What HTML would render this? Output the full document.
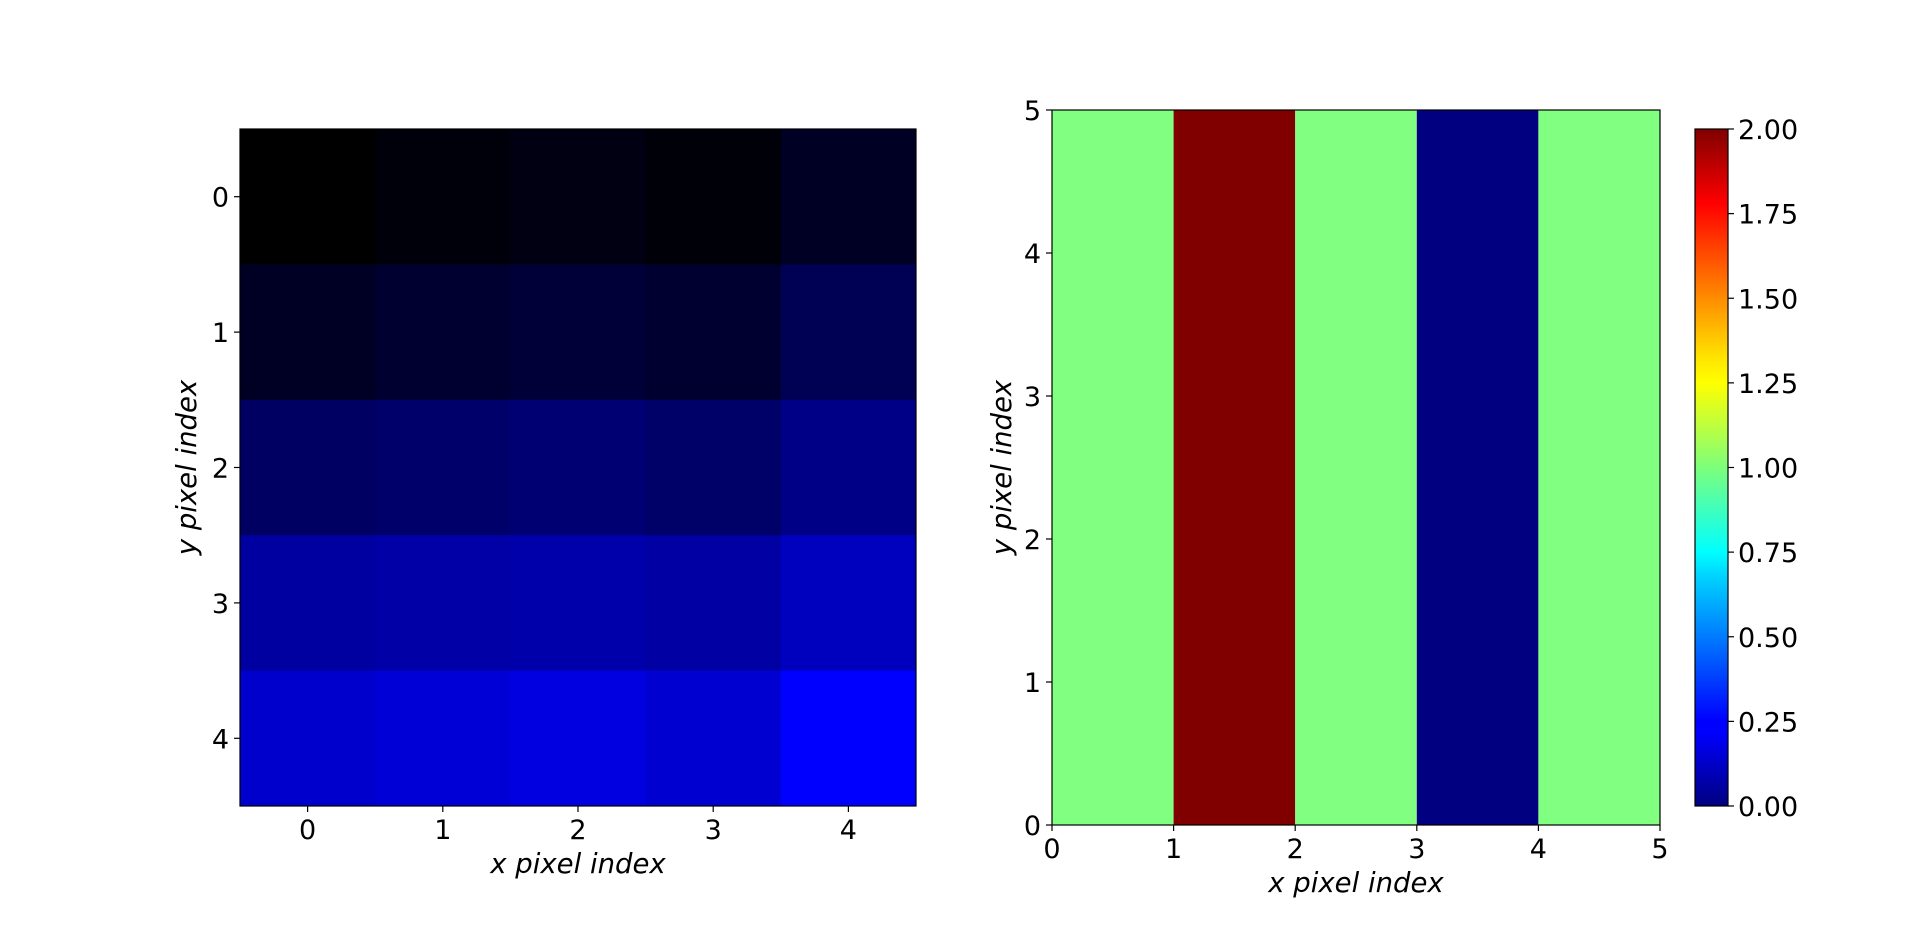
<!DOCTYPE html>
<html><head><meta charset="utf-8"><style>
html,body{margin:0;padding:0;background:#fff;}
svg{display:block;font-family:"DejaVu Sans","Liberation Sans",sans-serif;}
</style></head><body>
<svg id="fig" width="1920" height="927" viewBox="0 0 1920 927">
<defs>
<linearGradient id="jet" x1="0" y1="1" x2="0" y2="0">
<stop offset="0" stop-color="#000080"/><stop offset="0.11" stop-color="#0000ff"/><stop offset="0.125" stop-color="#0000ff"/>
<stop offset="0.34" stop-color="#00d4ff"/><stop offset="0.375" stop-color="#00ffff"/>
<stop offset="0.5" stop-color="#7dff7a"/><stop offset="0.625" stop-color="#ffff00"/><stop offset="0.66" stop-color="#ffe600"/>
<stop offset="0.89" stop-color="#ff0000"/><stop offset="1" stop-color="#800000"/>
</linearGradient>
</defs>
<g id="left"></g>
<g id="right"></g>
<g id="cbar"></g>
</svg>
<script>
// Left heatmap data (intensity 0..1, black->blue)
const leftRows = [0,1,2,3,4];
const leftCols = [0,1,2,3,4];
const leftValues = [
 [0.00,0.04,0.07,0.03,0.14],
 [0.14,0.19,0.22,0.19,0.33],
 [0.39,0.42,0.45,0.41,0.53],
 [0.63,0.65,0.67,0.64,0.75],
 [0.80,0.84,0.88,0.82,1.00]
];
// Right heatmap data (jet, 0..2)
const rightCols = [0,1,2,3,4];
const rightValues = [1,2,1,0,1];
const rightTicks = [0,1,2,3,4,5];
const cbarTicks = [0,0.25,0.5,0.75,1,1.25,1.5,1.75,2];
const cbarLabels = ["0.00","0.25","0.50","0.75","1.00","1.25","1.50","1.75","2.00"];

const TF=27, LF=27.5;
const NS="http://www.w3.org/2000/svg";
function mk(parent,tag,attrs,text){const e=document.createElementNS(NS,tag);for(const k in attrs)e.setAttribute(k,attrs[k]);if(text!==undefined)e.textContent=text;parent.appendChild(e);return e;}
function jet(v){const t=Math.max(0,Math.min(1,v));
 const r=Math.max(0,Math.min(1,1.5-Math.abs(4*t-3))),g=Math.max(0,Math.min(1,1.5-Math.abs(4*t-2))),b=Math.max(0,Math.min(1,1.5-Math.abs(4*t-1)));
 return `rgb(${Math.round(r*255)},${Math.round(g*255)},${Math.round(b*255)})`;}

// LEFT
const L={x0:240,x1:916,y0:129,y1:806};
const lx=v=>L.x0+(v+0.5)/5*(L.x1-L.x0);
const ly=v=>L.y0+(v+0.5)/5*(L.y1-L.y0);
const gl=document.getElementById('left');
const cw=(L.x1-L.x0)/5,ch=(L.y1-L.y0)/5;
leftRows.forEach((r,i)=>leftCols.forEach((c,j)=>{
 const rc=mk(gl,'rect',{x:lx(c)-cw/2,y:ly(r)-ch/2,width:cw+0.5,height:ch+0.5,fill:`rgb(0,0,${Math.round(leftValues[i][j]*255)})`});
 
 
}));
mk(gl,'rect',{x:L.x0,y:L.y0,width:L.x1-L.x0,height:L.y1-L.y0,fill:'none',stroke:'#000','stroke-width':1.2});
leftCols.forEach(c=>{mk(gl,'line',{x1:lx(c),x2:lx(c),y1:L.y1,y2:L.y1+6,stroke:'#000','stroke-width':1.2});
 const t=mk(gl,'text',{x:lx(c),y:L.y1+33,'text-anchor':'middle','font-size':TF},String(c));
 });
leftRows.forEach(r=>{mk(gl,'line',{x1:L.x0-6,x2:L.x0,y1:ly(r),y2:ly(r),stroke:'#000','stroke-width':1.2});
 const t=mk(gl,'text',{x:L.x0-11,y:ly(r)+10,'text-anchor':'end','font-size':TF},String(r));
 });
let t=mk(gl,'text',{x:(L.x0+L.x1)/2,y:873,'text-anchor':'middle','font-size':LF,'font-style':'italic'},'x pixel index');

t=mk(gl,'text',{x:0,y:0,'text-anchor':'middle','font-size':LF,'font-style':'italic',transform:`translate(196,${(L.y0+L.y1)/2}) rotate(-90)`},'y pixel index');


// RIGHT
const R={x0:1052,x1:1660,y0:110,y1:825};
const rx=v=>R.x0+v/5*(R.x1-R.x0);
const ry=v=>R.y1-v/5*(R.y1-R.y0);
const gr=document.getElementById('right');
rightCols.forEach((c,i)=>{
 const rc=mk(gr,'rect',{x:rx(c),y:R.y0,width:rx(c+1)-rx(c),height:R.y1-R.y0,fill:jet(rightValues[i]/2)});
 
 
});
mk(gr,'rect',{x:R.x0,y:R.y0,width:R.x1-R.x0,height:R.y1-R.y0,fill:'none',stroke:'#000','stroke-width':1.2});
rightTicks.forEach(v=>{
 mk(gr,'line',{x1:rx(v),x2:rx(v),y1:R.y1,y2:R.y1+6,stroke:'#000','stroke-width':1.2});
 let a=mk(gr,'text',{x:rx(v),y:R.y1+33,'text-anchor':'middle','font-size':TF},String(v));
 
 mk(gr,'line',{x1:R.x0-6,x2:R.x0,y1:ry(v),y2:ry(v),stroke:'#000','stroke-width':1.2});
 a=mk(gr,'text',{x:R.x0-11,y:ry(v)+10,'text-anchor':'end','font-size':TF},String(v));
 
});
t=mk(gr,'text',{x:(R.x0+R.x1)/2,y:892,'text-anchor':'middle','font-size':LF,'font-style':'italic'},'x pixel index');

t=mk(gr,'text',{x:0,y:0,'text-anchor':'middle','font-size':LF,'font-style':'italic',transform:`translate(1011,${(R.y0+R.y1)/2}) rotate(-90)`},'y pixel index');


// COLORBAR
const C={x0:1695,x1:1728,y0:129,y1:806};
const cy=v=>C.y1-v/2*(C.y1-C.y0);
const gc=document.getElementById('cbar');
mk(gc,'rect',{x:C.x0,y:C.y0,width:C.x1-C.x0,height:C.y1-C.y0,fill:'url(#jet)',stroke:'#000','stroke-width':1.2});
cbarTicks.forEach((v,i)=>{
 mk(gc,'line',{x1:C.x1,x2:C.x1+6,y1:cy(v),y2:cy(v),stroke:'#000','stroke-width':1.2});
 const a=mk(gc,'text',{x:C.x1+10,y:cy(v)+10,'font-size':TF},cbarLabels[i]);
 
});
</script>
</body></html>
